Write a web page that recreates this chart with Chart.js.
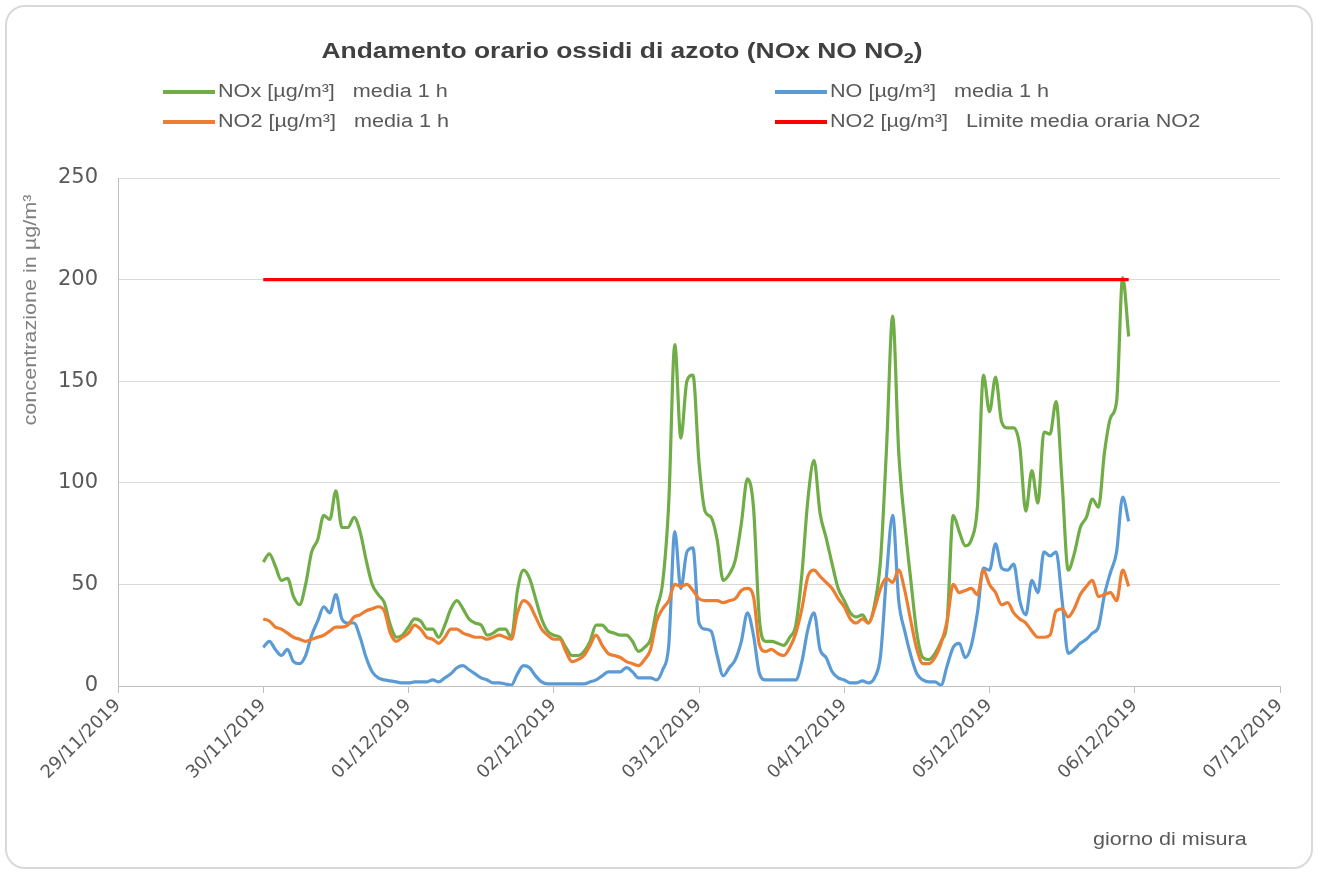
<!DOCTYPE html>
<html>
<head>
<meta charset="utf-8">
<script src="https://cdn.jsdelivr.net/npm/chart.js@4.4.1/dist/chart.umd.min.js"></script>
<style>
    html, body { margin: 0; padding: 0; background: #fff; }
    #contenitore { position: relative; width: 1318px; height: 874px; }
    #cornice {
        position: absolute; left: 5px; top: 5px; width: 1308px; height: 864px;
        border: 2px solid #d9d9d9; border-radius: 20px; box-sizing: border-box;
    }
    #grafico { position: absolute; left: 0; top: 0; }
</style>
</head>
<body>
<div id="contenitore">
    <div id="cornice"></div>
    <canvas id="grafico" width="1318" height="874"></canvas>
</div>
<script>
// --- Dati ---

// etichette dell'asse x (un tick ogni 24 ore, a partire da 29/11/2019 00:00)
const giorni = ['29/11/2019', '30/11/2019', '01/12/2019', '02/12/2019', '03/12/2019',
                '04/12/2019', '05/12/2019', '06/12/2019', '07/12/2019'];

// la prima misura e' del 30/11/2019 alle 00:00 (ora 24 dall'inizio dell'asse)
const oraInizio = 24;

// medie orarie, una ogni ora
const NOx = [
    61, 65, 59, 52, 53, 44, 40, 50, 66, 72,
    84, 82, 96, 78, 78, 83, 76, 62, 50, 45,
    41, 30, 24, 25, 29, 33, 32, 28, 28, 24,
    30, 38, 42, 38, 33, 31, 30, 25, 26, 28,
    28, 24, 47, 57, 53, 43, 33, 27, 25, 24,
    19, 15, 15, 17, 22, 30, 30, 27, 26, 25,
    25, 22, 17, 19, 23, 38, 51, 90, 168, 122,
    150, 153, 110, 86, 83, 72, 52, 55, 62, 80,
    102, 88, 32, 22, 22, 21, 20, 24, 30, 55,
    92, 111, 85, 73, 60, 48, 42, 36, 34, 35,
    31, 40, 62, 118, 182, 115, 80, 52, 26, 14,
    13, 16, 22, 32, 84, 76, 69, 72, 88, 153,
    135, 152, 130, 127, 127, 118, 86, 106, 90, 125,
    124, 140, 100, 57, 65, 78, 83, 92, 88, 115,
    132, 140, 201, 172
];

const NO = [
    19, 22, 18, 15, 18, 12, 11, 15, 25, 32,
    39, 36, 45, 33, 31, 31, 24, 14, 7, 4,
    3, 2.5, 2, 1.5, 1.5, 2, 2, 2, 3, 2,
    4, 6, 9, 10, 8, 6, 4, 3, 1.5, 1.5,
    1, 0.5, 6, 10, 9, 5, 2, 1, 1, 1,
    1, 1, 1, 1, 2, 3, 5, 7, 7, 7,
    9, 7, 4, 4, 4, 3, 8, 20, 76, 48,
    66, 68, 31, 28, 27, 15, 5, 9, 13, 22,
    36, 25, 6, 3, 3, 3, 3, 3, 3, 12,
    28, 36, 18, 14, 7, 4, 3, 1.5, 1.5, 2.5,
    1.5, 4, 15, 55, 84, 42, 27, 15, 6, 3,
    2, 2, 0.5, 10, 19, 21, 14, 20, 36, 58,
    57, 70, 58, 57, 60, 42, 35, 52, 46, 66,
    64, 66, 42, 16, 18, 21, 23, 26, 29, 45,
    56, 66, 93, 81
];

const NO2 = [
    33, 32, 29, 28, 26, 24, 23, 22, 23, 24,
    25, 27, 29, 29, 30, 34, 35, 37, 38, 39,
    37, 26, 22, 24, 26, 30, 28, 24, 23, 21,
    24, 28, 28, 26, 25, 24, 24, 23, 24, 25,
    24, 23, 36, 42, 40, 34, 28, 25, 23, 23,
    17, 12, 13, 15, 20, 25, 20, 16, 15, 14,
    12, 11, 10, 13, 18, 32, 38, 42, 50, 49,
    50, 47, 43, 42, 42, 42, 41, 42, 43, 47,
    48, 44, 20, 17, 18, 16, 15, 19, 26, 38,
    54, 57, 54, 51, 48, 43, 39, 33, 31, 33,
    31, 38, 48, 53, 51, 57, 47, 32, 18, 11,
    11, 14, 21, 32, 50, 46, 47, 48, 45, 57,
    50, 46, 40, 41, 36, 33, 31, 27, 24, 24,
    25, 37, 38, 34, 38, 45, 49, 52, 44, 45,
    46, 42, 57, 49
];

// limite orario per NO2
const limiteNO2 = 200;

// --- Costruzione dei dataset ---

function comePunti(valori) {
    return valori.map((v, i) => ({ x: oraInizio + i, y: v }));
}

const lineaLimite = NO2.map((v, i) => ({ x: oraInizio + i, y: limiteNO2 }));

const datiGrafico = {
    datasets: [
        {
            label: 'NOx [µg/m³]   media 1 h',
            data: comePunti(NOx),
            borderColor: '#70ad47',
            order: 3
        },
        {
            label: 'NO [µg/m³]   media 1 h',
            data: comePunti(NO),
            borderColor: '#5b9bd5',
            order: 2
        },
        {
            label: 'NO2 [µg/m³]   media 1 h',
            data: comePunti(NO2),
            borderColor: '#ed7d31',
            order: 1
        },
        {
            label: 'NO2 [µg/m³]   Limite media oraria NO2',
            data: lineaLimite,
            borderColor: '#ff0000',
            order: 0
        }
    ]
};

datiGrafico.datasets.forEach(ds => {
    ds.borderWidth = 3.2;
    ds.pointRadius = 0;
    ds.fill = false;
    ds.tension = 0.4;
    ds.cubicInterpolationMode = 'monotone';
});

// --- Titolo, legenda e titoli degli assi disegnati a mano ---

const FONT = '"Liberation Sans", Arial, sans-serif';
const ALLARGA = 1.2; // il testo dell'originale e' un po' piu' largo dell'Arial

// scrive un testo allargato in orizzontale a partire da (x, y)
function scriviLargo(ctx, testo, x, y) {
    ctx.save();
    ctx.translate(x, y);
    ctx.scale(ALLARGA, 1);
    ctx.fillText(testo, 0, 0);
    ctx.restore();
}

const decorazioni = {
    id: 'decorazioni',
    afterDraw(chart) {
        const ctx = chart.ctx;
        ctx.save();

        // titolo con il "2" a pedice
        const fTitolo = 'bold 22px ' + FONT;
        const fPedice = 'bold 15px ' + FONT;
        const parte1 = 'Andamento orario ossidi di azoto (NOx NO NO';
        ctx.fillStyle = '#404040';
        ctx.textBaseline = 'alphabetic';
        ctx.textAlign = 'left';
        ctx.font = fTitolo;
        const w1 = ctx.measureText(parte1).width * ALLARGA;
        const w3 = ctx.measureText(')').width * ALLARGA;
        ctx.font = fPedice;
        const w2 = ctx.measureText('2').width * ALLARGA;
        const x = 622 - (w1 + w2 + w3) / 2;
        ctx.font = fTitolo;
        scriviLargo(ctx, parte1, x, 58);
        ctx.font = fPedice;
        scriviLargo(ctx, '2', x + w1, 63);
        ctx.font = fTitolo;
        scriviLargo(ctx, ')', x + w1 + w2, 58);

        // legenda su due colonne
        const posizioni = [[163, 92], [775, 92], [163, 122], [775, 122]];
        ctx.font = '18px ' + FONT;
        ctx.textBaseline = 'middle';
        chart.data.datasets.forEach((ds, i) => {
            const [lx, ly] = posizioni[i];
            ctx.strokeStyle = ds.borderColor;
            ctx.lineWidth = 4;
            ctx.beginPath();
            ctx.moveTo(lx, ly);
            ctx.lineTo(lx + 52, ly);
            ctx.stroke();
            ctx.fillStyle = '#595959';
            scriviLargo(ctx, ds.label, lx + 55, ly);
        });

        // titolo asse y
        ctx.save();
        ctx.translate(31, 310);
        ctx.rotate(-Math.PI / 2);
        ctx.scale(ALLARGA, 1);
        ctx.textAlign = 'center';
        ctx.font = '18px ' + FONT;
        ctx.fillStyle = '#7f7f7f';
        ctx.fillText('concentrazione in µg/m³', 0, 0);
        ctx.restore();

        // titolo asse x
        ctx.textAlign = 'left';
        ctx.font = '18px ' + FONT;
        ctx.fillStyle = '#595959';
        scriviLargo(ctx, 'giorno di misura', 1093, 840);

        ctx.restore();
    }
};

const ctx = document.getElementById('grafico').getContext('2d');

let grafico = new Chart(ctx, {
    type: 'line',
    data: datiGrafico,
    options: {
        responsive: false,
        animation: false,
        layout: { padding: { top: 178, right: 38, left: 0, bottom: 0 } },
        plugins: {
            legend: { display: false },
            title: { display: false },
            tooltip: { enabled: false }
        },
        scales: {
            x: {
                type: 'linear',
                min: 0,
                max: 24 * (giorni.length - 1),
                afterFit: scala => { scala.height = 188; },
                afterBuildTicks: scala => {
                    scala.ticks = giorni.map((g, i) => ({ value: i * 24 }));
                },
                ticks: {
                    callback: valore => giorni[valore / 24],
                    autoSkip: false,
                    maxRotation: 45,
                    minRotation: 45,
                    padding: 2,
                    color: '#595959',
                    font: { size: 18, family: '"DejaVu Sans", sans-serif' }
                },
                grid: {
                    drawOnChartArea: false,
                    drawTicks: true,
                    tickLength: 7,
                    color: '#bfbfbf'
                },
                border: { display: true, color: '#bfbfbf', width: 1 }
            },
            y: {
                min: 0,
                max: 250,
                afterFit: scala => { scala.width = 118; },
                ticks: {
                    stepSize: 50,
                    padding: 20,
                    color: '#595959',
                    font: { size: 21, family: '"DejaVu Sans", sans-serif' }
                },
                grid: { color: '#d9d9d9', drawTicks: false },
                border: { display: true, color: '#bfbfbf', width: 1 }
            }
        }
    },
    plugins: [decorazioni]
});
</script>
</body>
</html>
